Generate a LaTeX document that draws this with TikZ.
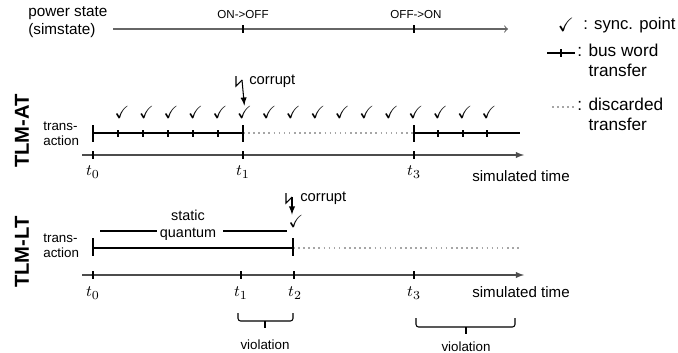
\documentclass[tikz,border=0pt]{standalone}
\usepackage{amsmath,amssymb}
\usepackage{fontspec}
\setmainfont{Liberation Sans}
\usetikzlibrary{arrows}
\tikzset{txt/.style = {font=\fontsize{7.6}{8.6}\selectfont, inner sep=0pt, align=center}}
\tikzset{tiny/.style = {font=\fontsize{6.6}{8}\selectfont, inner sep=0pt}}
\tikzset{leg/.style = {font=\fontsize{9.8}{11.4}\selectfont, inner sep=0pt, anchor=west, align=left}}
\tikzset{lvl/.style = {font=\bfseries\fontsize{11.5}{13}\selectfont, rotate=90, inner sep=0pt}}
\tikzset{tlab/.style = {font=\fontsize{9.5}{10}\selectfont, inner sep=0pt}}
\tikzset{sync/.style = {font=\fontsize{10}{11}\selectfont, inner sep=0pt}}
\tikzset{word/.style = {line width=1.4pt}}
\tikzset{discard/.style = {black!35, dotted, line width=0.9pt}}
\tikzset{tick/.style = {line width=0.6pt}}
\tikzset{axis/.style = {->, >=latex, black!70, line width=0.6pt}}
\tikzset{power/.style = {->, >=to, black!60, line width=0.6pt}}
\tikzset{edge/.style = {->, >=latex, line width=0.6pt}}
\tikzset{viol/.style = {line width=0.6pt, rounded corners=1.5pt}}

\begin{document}
\begin{tikzpicture}[x=0.02cm, y=0.02cm]
    \useasboundingbox (0,0) rectangle (678,-352);

    % power state line
    \node[txt, font=\fontsize{8.7}{10}\selectfont, align=left, anchor=west] (ps) at (28,-22) {power state\\(simstate)};
    \coordinate (p0) at (113,-29);
    \coordinate (p1) at (508,-29);
    \draw[power] (p0) -- (p1);
    \foreach \x in {243,414} \draw[tick] (\x,-25) -- (\x,-33);
    \node[tiny] (off) at (243,-15) {ON->OFF};
    \node[tiny] (on) at (416,-15) {OFF->ON};

    % legend
    \node[sync, font=\fontsize{11}{12}\selectfont] (lsync) at (566,-25) {$\checkmark$};
    \node[leg, font=\fontsize{9.5}{11}\selectfont] (lsynct) at (583,-25) {: sync. point};
    \coordinate (lw0) at (547,-53);
    \coordinate (lw1) at (575,-53);
    \draw[word] (lw0) -- (lw1);
    \draw[tick] (561,-49) -- (561,-57);
    \node[leg] (lword) at (577,-60) {: bus word\\\phantom{: }transfer};
    \coordinate (ld0) at (552,-107);
    \coordinate (ld1) at (575,-107);
    \draw[discard] (ld0) -- (ld1);
    \node[leg] (ldisc) at (577,-114) {: discarded\\\phantom{: }transfer};

    % TLM-AT
    \node[lvl] (at) at (22,-131) {TLM-AT};
    \node[txt, align=left, anchor=west] (atr) at (43,-134) {trans-\\action};
    \coordinate (a0) at (93,-133);
    \coordinate (a1) at (243,-133);
    \coordinate (a3) at (414,-133);
    \coordinate (a4) at (520,-133);
    \draw[word] (a0) -- (a1);
    \draw[discard] (a1) -- (a3);
    \draw[word] (a3) -- (a4);
    \foreach \x in {93,243,414} \draw[tick] (\x,-125) -- (\x,-142);
    \foreach \x in {118,143,168,193,218,438,463,487} \draw[tick] (\x,-130) -- (\x,-137);
    \foreach \i in {0,...,15} \node[sync] (c\i) at ({122+24.47*\i},-112) {$\checkmark$};
    \node[txt, font=\fontsize{8.4}{10}\selectfont, anchor=west] (corra) at (249,-81) {corrupt};
    \draw[tick] (236,-76) -- (236,-86) -- (242,-80);
    \coordinate (za) at (242,-80);
    \draw[edge] (za) -- (c5.north);
    \coordinate (xa0) at (82,-155);
    \coordinate (xa1) at (524,-155);
    \draw[axis] (xa0) -- (xa1);
    \foreach \x in {93,243,414} \draw[tick] (\x,-151) -- (\x,-159);
    \node[tlab] (at0) at (93,-172) {$t_0$};
    \node[tlab] (at1) at (243,-172) {$t_1$};
    \node[tlab] (at3) at (414,-172) {$t_3$};
    \node[txt, font=\fontsize{8.6}{10}\selectfont] (ata) at (521,-176) {simulated time};

    % TLM-LT
    \node[lvl] (lt) at (22,-252) {TLM-LT};
    \node[txt, align=left, anchor=west] (ltr) at (43,-246) {trans-\\action};
    \node[txt, font=\fontsize{8.2}{9.6}\selectfont] (sq) at (188,-225) {static\\quantum};
    \coordinate (q0) at (100,-231);
    \coordinate (q1) at (157,-231);
    \coordinate (q2) at (223,-231);
    \coordinate (q3) at (287,-231);
    \draw[line width=0.8pt] (q0) -- (q1);
    \draw[line width=0.8pt] (q2) -- (q3);
    \coordinate (b0) at (93,-248);
    \coordinate (b2) at (293,-248);
    \coordinate (b4) at (520,-248);
    \draw[word] (b0) -- (b2);
    \draw[discard] (b2) -- (b4);
    \foreach \x in {93,293} \draw[tick] (\x,-238) -- (\x,-256);
    \node[sync] (cl) at (296,-221) {$\checkmark$};
    \node[txt, font=\fontsize{8.4}{10}\selectfont, anchor=west] (corrl) at (300,-198) {corrupt};
    \draw[tick] (286,-193) -- (286,-203) -- (292,-197);
    \coordinate (zl) at (292,-197);
    \draw[edge] (zl) -- (cl.north -| zl);
    \coordinate (xl0) at (82,-275);
    \coordinate (xl1) at (524,-275);
    \draw[axis] (xl0) -- (xl1);
    \foreach \x in {93,241,294,414} \draw[tick] (\x,-271) -- (\x,-279);
    \node[tlab] (lt0) at (93,-293) {$t_0$};
    \node[tlab] (lt1) at (241,-293) {$t_1$};
    \node[tlab] (lt2) at (295,-293) {$t_2$};
    \node[tlab] (lt3) at (414,-293) {$t_3$};
    \node[txt, font=\fontsize{8.6}{10}\selectfont] (lta) at (521,-292) {simulated time};

    % violations
    \draw[viol] (238,-313) -- (238,-321) -- (293,-321) -- (293,-313);
    \draw[viol] (265,-321) -- (265,-328);
    \node[txt] (viola) at (265,-345) {violation};
    \draw[viol] (416,-318) -- (416,-327) -- (515,-327) -- (515,-318);
    \draw[viol] (466,-327) -- (466,-334);
    \node[txt] (violb) at (466,-347) {violation};
\end{tikzpicture}
\end{document}
